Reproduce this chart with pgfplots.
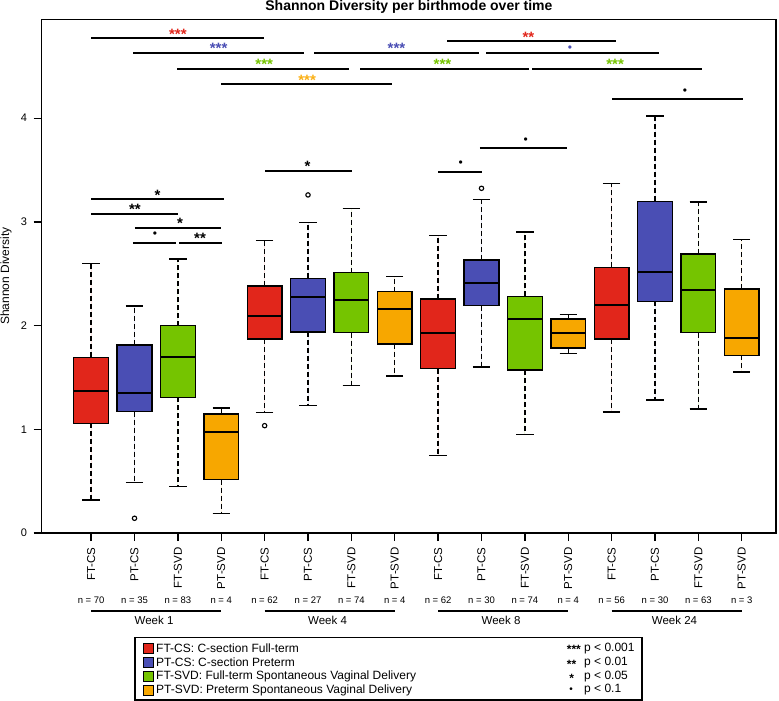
\documentclass[border=0pt]{standalone}
\usepackage{fontspec}
\setmainfont{Liberation Sans}
\usepackage{pgfplots}
\pgfplotsset{compat=1.18}
\usepgfplotslibrary{statistics}

\definecolor{ftcs}{RGB}{225,38,27}
\definecolor{ptcs}{RGB}{74,78,180}
\definecolor{ftsvd}{RGB}{117,196,0}
\definecolor{ptsvd}{RGB}{247,167,0}
\definecolor{starorange}{RGB}{250,175,20}

\newcommand{\fs}[1]{\fontsize{#1bp}{#1bp}\selectfont}
% significance bar: from, to, height
\newcommand{\sigbar}[3]{\draw[line width=2bp] (axis cs:#1,#3) -- (axis cs:#2,#3);}
% stars: [colour] x, top, text
\newcommand{\stars}[4][black]{\node[anchor=north, inner sep=0pt, text=#1, font=\bfseries\fs{15}] at (axis cs:#2,#3) {#4};}
% dot for p < 0.1: [colour] x, centre
\newcommand{\pdot}[3][black]{\node[inner sep=0pt, text=#1, font=\fs{12}] at (axis cs:#2,#3) {•};}

\begin{document}
\begin{tikzpicture}[x=1bp,y=1bp]
\useasboundingbox (-41.7,-168) rectangle (737.3,533);
\begin{axis}[
  at={(0,0)}, anchor=south west,
  scale only axis, width=734.3bp, height=513.7bp,
  xmin=-0.14, xmax=16.79, ymin=0, ymax=4.954,
  clip=false,
  axis line style={line width=1.4bp},
  tick align=outside, tick pos=left, major tick length=8bp,
  every tick/.style={black, line width=1.4bp},
  /pgf/number format/assume math mode=true,
  xtick={1,...,16},
  xticklabels={FT-CS,PT-CS,FT-SVD,PT-SVD,FT-CS,PT-CS,FT-SVD,PT-SVD,FT-CS,PT-CS,FT-SVD,PT-SVD,FT-CS,PT-CS,FT-SVD,PT-SVD},
  xticklabel style={rotate=90, anchor=east, font=\fs{11.5}},
  xticklabel shift=3bp,
  ytick={0,1,2,3,4},
  yticklabel style={font=\fs{11}},
  yticklabel shift=3.3bp,
  boxplot/draw direction=y,
  boxplot/box extend=0.8,
  boxplot/every median/.style={line width=2.2bp},
  boxplot/draw/lower whisker/.code={%
    \draw[line width=1.4bp, dash pattern=on 5bp off 3bp]
      (boxplot box cs:\pgfplotsboxplotvalue{lower quartile},0.5) -- (boxplot box cs:\pgfplotsboxplotvalue{lower whisker},0.5);
    \draw[line width=1.4bp]
      (boxplot box cs:\pgfplotsboxplotvalue{lower whisker},0.25) -- (boxplot box cs:\pgfplotsboxplotvalue{lower whisker},0.75);
  },
  boxplot/draw/upper whisker/.code={%
    \draw[line width=1.4bp, dash pattern=on 5bp off 3bp]
      (boxplot box cs:\pgfplotsboxplotvalue{upper quartile},0.5) -- (boxplot box cs:\pgfplotsboxplotvalue{upper whisker},0.5);
    \draw[line width=1.4bp]
      (boxplot box cs:\pgfplotsboxplotvalue{upper whisker},0.25) -- (boxplot box cs:\pgfplotsboxplotvalue{upper whisker},0.75);
  },
  every axis plot/.append style={draw=black, line width=1.4bp, mark=o, mark size=2.2bp, mark options={solid, black, line width=1.1bp}},
]
% Week 1
\addplot[fill=ftcs, boxplot prepared={draw position=1, lower whisker=0.318, lower quartile=1.058, median=1.372, upper quartile=1.694, upper whisker=2.60}] coordinates {};
\addplot[fill=ptcs, boxplot prepared={draw position=2, lower whisker=0.489, lower quartile=1.170, median=1.353, upper quartile=1.813, upper whisker=2.19}] table[row sep=\\, y index=0] {data\\ 0.142\\};
\addplot[fill=ftsvd, boxplot prepared={draw position=3, lower whisker=0.450, lower quartile=1.309, median=1.694, upper quartile=2.000, upper whisker=2.642}] coordinates {};
\addplot[fill=ptsvd, boxplot prepared={draw position=4, lower whisker=0.186, lower quartile=0.514, median=0.971, upper quartile=1.148, upper whisker=1.205}] coordinates {};
% Week 4
\addplot[fill=ftcs, boxplot prepared={draw position=5, lower whisker=1.164, lower quartile=1.871, median=2.093, upper quartile=2.382, upper whisker=2.819}] table[row sep=\\, y index=0] {data\\ 1.035\\};
\addplot[fill=ptcs, boxplot prepared={draw position=6, lower whisker=1.231, lower quartile=1.938, median=2.276, upper quartile=2.456, upper whisker=2.996}] table[row sep=\\, y index=0] {data\\ 3.26\\};
\addplot[fill=ftsvd, boxplot prepared={draw position=7, lower whisker=1.421, lower quartile=1.932, median=2.247, upper quartile=2.510, upper whisker=3.131}] coordinates {};
\addplot[fill=ptsvd, boxplot prepared={draw position=8, lower whisker=1.514, lower quartile=1.823, median=2.160, upper quartile=2.327, upper whisker=2.472}] coordinates {};
% Week 8
\addplot[fill=ftcs, boxplot prepared={draw position=9, lower whisker=0.745, lower quartile=1.585, median=1.932, upper quartile=2.256, upper whisker=2.871}] coordinates {};
\addplot[fill=ptcs, boxplot prepared={draw position=10, lower whisker=1.601, lower quartile=2.192, median=2.408, upper quartile=2.633, upper whisker=3.214}] table[row sep=\\, y index=0] {data\\ 3.324\\};
\addplot[fill=ftsvd, boxplot prepared={draw position=11, lower whisker=0.948, lower quartile=1.572, median=2.067, upper quartile=2.282, upper whisker=2.903}] coordinates {};
\addplot[fill=ptsvd, boxplot prepared={draw position=12, lower whisker=1.733, lower quartile=1.784, median=1.932, upper quartile=2.064, upper whisker=2.109}] coordinates {};
% Week 24
\addplot[fill=ftcs, boxplot prepared={draw position=13, lower whisker=1.167, lower quartile=1.871, median=2.199, upper quartile=2.562, upper whisker=3.368}] coordinates {};
\addplot[fill=ptcs, boxplot prepared={draw position=14, lower whisker=1.283, lower quartile=2.234, median=2.520, upper quartile=3.199, upper whisker=4.021}] coordinates {};
\addplot[fill=ftsvd, boxplot prepared={draw position=15, lower whisker=1.196, lower quartile=1.932, median=2.343, upper quartile=2.690, upper whisker=3.192}] coordinates {};
\addplot[fill=ptsvd, boxplot prepared={draw position=16, lower whisker=1.553, lower quartile=1.714, median=1.877, upper quartile=2.353, upper whisker=2.829}] coordinates {};

% significance across weeks
\sigbar{1}{4.99}{4.770} \stars[ftcs]{3}{4.863}{***}
\sigbar{9.21}{13.09}{4.741} \stars[ftcs]{11.08}{4.836}{**}
\sigbar{1.97}{5.91}{4.626} \stars[ptcs]{3.94}{4.721}{***}
\sigbar{6.14}{9.94}{4.626} \stars[ptcs]{8.04}{4.721}{***}
\sigbar{10.11}{14.09}{4.626} \pdot[ptcs]{12.04}{4.670}
\sigbar{2.99}{6.95}{4.472} \stars[ftsvd]{4.99}{4.567}{***}
\sigbar{7.2}{11.09}{4.472} \stars[ftsvd]{9.1}{4.567}{***}
\sigbar{11.17}{15.08}{4.472} \stars[ftsvd]{13.08}{4.567}{***}
\sigbar{4.0}{7.93}{4.327} \stars[starorange]{5.98}{4.417}{***}
\sigbar{13.02}{16.02}{4.182} \pdot{14.69}{4.256}
% significance within weeks
\sigbar{1.0}{4.06}{3.218} \stars{2.53}{3.308}{*}
\sigbar{1.0}{3.01}{3.076} \stars{2.01}{3.169}{**}
\sigbar{2.01}{3.99}{2.941} \stars{3.05}{3.034}{*}
\sigbar{1.96}{2.95}{2.797} \pdot{2.47}{2.874}
\sigbar{3.02}{4.01}{2.797} \stars{3.51}{2.893}{**}
\sigbar{5.01}{7.01}{3.494} \stars{5.99}{3.587}{*}
\sigbar{9.0}{10.01}{3.484} \pdot{9.52}{3.558}
\sigbar{9.96}{11.97}{3.713} \pdot{11.02}{3.783}

% sample sizes
\node[font=\fs{9.5}] at (axis cs:1,-0.652) {n = 70};
\node[font=\fs{9.5}] at (axis cs:2,-0.652) {n = 35};
\node[font=\fs{9.5}] at (axis cs:3,-0.652) {n = 83};
\node[font=\fs{9.5}] at (axis cs:4,-0.652) {n = 4};
\node[font=\fs{9.5}] at (axis cs:5,-0.652) {n = 62};
\node[font=\fs{9.5}] at (axis cs:6,-0.652) {n = 27};
\node[font=\fs{9.5}] at (axis cs:7,-0.652) {n = 74};
\node[font=\fs{9.5}] at (axis cs:8,-0.652) {n = 4};
\node[font=\fs{9.5}] at (axis cs:9,-0.652) {n = 62};
\node[font=\fs{9.5}] at (axis cs:10,-0.652) {n = 30};
\node[font=\fs{9.5}] at (axis cs:11,-0.652) {n = 74};
\node[font=\fs{9.5}] at (axis cs:12,-0.652) {n = 4};
\node[font=\fs{9.5}] at (axis cs:13,-0.652) {n = 56};
\node[font=\fs{9.5}] at (axis cs:14,-0.652) {n = 30};
\node[font=\fs{9.5}] at (axis cs:15,-0.652) {n = 63};
\node[font=\fs{9.5}] at (axis cs:16,-0.652) {n = 3};

% week groups
\draw[line width=2.5bp] (axis cs:1,-0.753) -- (axis cs:4,-0.753);
\draw[line width=2.5bp] (axis cs:5,-0.753) -- (axis cs:8,-0.753);
\draw[line width=2.5bp] (axis cs:9,-0.753) -- (axis cs:12,-0.753);
\draw[line width=2.5bp] (axis cs:13,-0.753) -- (axis cs:16,-0.753);
\node[anchor=base, inner sep=0pt, font=\fs{11.5}] at (axis cs:2.45,-0.887) {Week 1};
\node[anchor=base, inner sep=0pt, font=\fs{11.5}] at (axis cs:6.45,-0.887) {Week 4};
\node[anchor=base, inner sep=0pt, font=\fs{11.5}] at (axis cs:10.45,-0.887) {Week 8};
\node[anchor=base, inner sep=0pt, font=\fs{11.5}] at (axis cs:14.45,-0.887) {Week 24};
\end{axis}

% title and y label
\node[anchor=base, inner sep=0pt, font=\bfseries\fs{14}] at (367.2,522.7) {Shannon Diversity per birthmode over time};
\node[rotate=90, inner sep=0pt, font=\fs{12}] at (-35.7,256.85) {Shannon Diversity};

% legend
\draw[line width=1.3bp] (93.3,-104.3) rectangle (600.3,-167);
\filldraw[fill=ftcs, draw=black, line width=0.8bp] (101.3,-120.3) rectangle (111.8,-110.3);
\filldraw[fill=ptcs, draw=black, line width=0.8bp] (101.3,-134.7) rectangle (111.8,-124.7);
\filldraw[fill=ftsvd, draw=black, line width=0.8bp] (101.3,-148.7) rectangle (111.8,-138.7);
\filldraw[fill=ptsvd, draw=black, line width=0.8bp] (101.3,-162) rectangle (111.8,-152);
\node[anchor=west, inner sep=0pt, font=\fs{12}] at (114.3,-115.3) {FT-CS: C-section Full-term};
\node[anchor=west, inner sep=0pt, font=\fs{12}] at (114.3,-129.7) {PT-CS: C-section Preterm};
\node[anchor=west, inner sep=0pt, font=\fs{12}] at (114.3,-143.7) {FT-SVD: Full-term Spontaneous Vaginal Delivery};
\node[anchor=west, inner sep=0pt, font=\fs{12}] at (114.3,-157) {PT-SVD: Preterm Spontaneous Vaginal Delivery};
\node[anchor=west, inner sep=0pt, font=\bfseries\fs{12}] at (525,-116.5) {***};
\node[anchor=west, inner sep=0pt, font=\bfseries\fs{12}] at (525,-130.9) {**};
\node[anchor=west, inner sep=0pt, font=\bfseries\fs{12}] at (527.5,-144.9) {*};
\node[anchor=west, inner sep=0pt, font=\fs{10}] at (527.5,-157) {•};
\node[anchor=west, inner sep=0pt, font=\fs{12}] at (542.3,-115.3) {p < 0.001};
\node[anchor=west, inner sep=0pt, font=\fs{12}] at (542.3,-129.7) {p < 0.01};
\node[anchor=west, inner sep=0pt, font=\fs{12}] at (542.3,-143.7) {p < 0.05};
\node[anchor=west, inner sep=0pt, font=\fs{12}] at (542.3,-157) {p < 0.1};
\end{tikzpicture}
\end{document}
